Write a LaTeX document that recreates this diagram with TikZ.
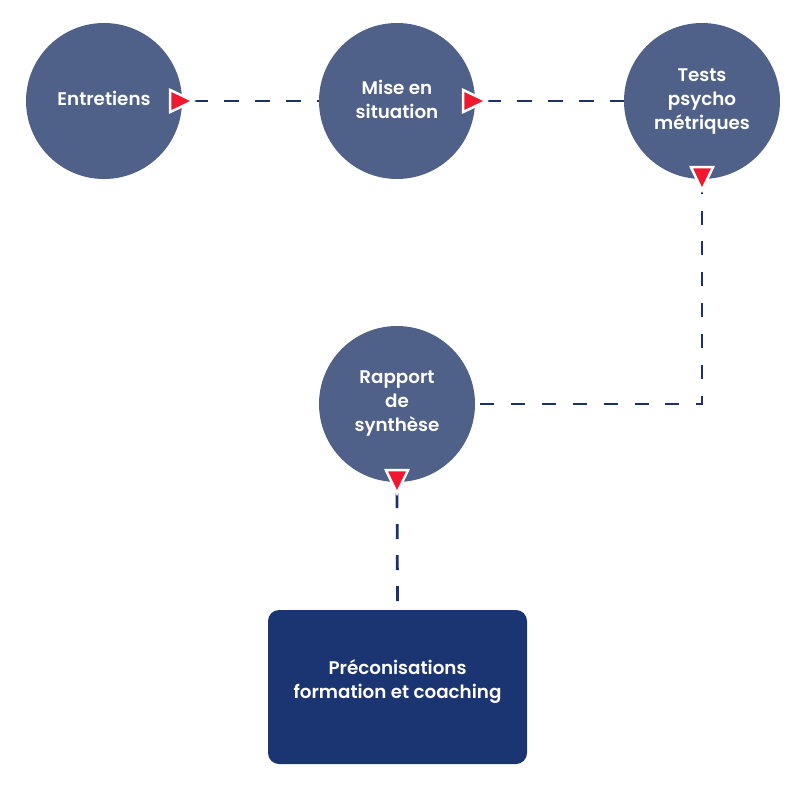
\documentclass[tikz,border=0pt]{standalone}
\usepackage{fontspec}
\setmainfont{Poppins}[BoldFont={Poppins SemiBold}]
\usetikzlibrary{calc}
\definecolor{circ}{HTML}{4F6189}
\definecolor{boxc}{HTML}{1A3572}
\definecolor{linec}{HTML}{1B306C}
\definecolor{tric}{HTML}{F0172F}
\newcommand\liftup[2]{\raisebox{#1}[\height][\depth]{\begin{tabular}{@{}c@{}}#2\end{tabular}}}
\tikzset{
  stepcirc/.style={circle, fill=circ, minimum size=156pt, inner sep=0pt, text=white, font=\fontsize{18.3}{24}\selectfont\bfseries},
  stepbox/.style={rectangle, rounded corners=11pt, fill=boxc, minimum width=259pt, minimum height=154pt, inner sep=0pt, text=white, font=\fontsize{18.3}{24}\selectfont\bfseries},
  dashline/.style={draw=linec, line width=2.8pt, dash pattern=on 15pt off 16pt},
  tri/.style={fill=tric, draw=white, line width=2.5pt, line join=miter}
}
\begin{document}
\begin{tikzpicture}[x=1pt,y=-1pt]
\useasboundingbox (0,0) rectangle (800,800);
\node[stepcirc] (e) at (104,101) {\liftup{0pt}{Entretiens}};
\node[stepcirc] (m) at (397,101) {\liftup{-1pt}{Mise en\\situation}};
\node[stepcirc] (t) at (702,101) {\liftup{0pt}{Tests\\psycho\\métriques}};
\node[stepcirc] (r) at (397,404) {\liftup{1.5pt}{Rapport\\de\\synthèse}};
\node[stepbox] (b) at (397.5,687) {\liftup{5pt}{Préconisations\\formation et coaching}};
% connectors
\coordinate (e1) at ($(e.east)+(11,0)$);
\coordinate (m1) at ($(m.east)+(11,0)$);
\coordinate (t1) at ($(t.south)+(0,11)$);
\coordinate (r1) at ($(r.south)+(0,11)$);
\coordinate (re) at ($(r.east)+(5,0)$);
\coordinate (corner) at (t1 |- r.east);
\coordinate (bn) at ($(b.north)+(0,-8)$);
\draw[dashline] (e1) -- (m.west);
\draw[dashline] (m1) -- (t.west);
\draw[dashline, dash pattern=on 14pt off 16.86pt, line join=miter] (re) -- (corner) -- (t1);
\draw[dashline] (r1) -- (bn);
% arrowheads
\path[tri] (e1) -- ++(-23,-11) -- ++(0,22) -- cycle;
\path[tri] (m1) -- ++(-23,-11) -- ++(0,22) -- cycle;
\path[tri] (t1) -- ++(-11,-23) -- ++(22,0) -- cycle;
\path[tri] (r1) -- ++(-11,-23) -- ++(22,0) -- cycle;
\end{tikzpicture}
\end{document}
